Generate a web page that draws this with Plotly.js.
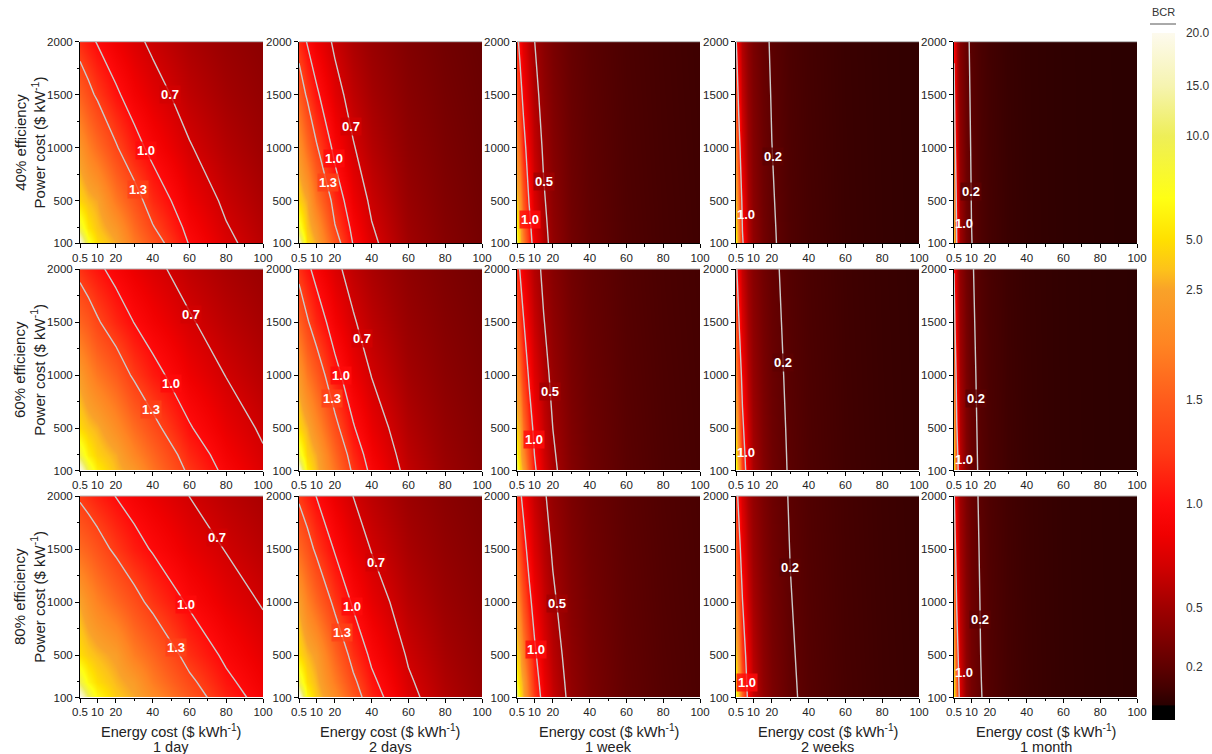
<!DOCTYPE html>
<html>
<head>
<meta charset="utf-8">
<script src="https://cdn.plot.ly/plotly-3.0.1.min.js"></script>
<style>html,body{margin:0;padding:0;background:#fff;}#chart{width:1212px;height:754px;}</style>
</head>
<body>
<div id="chart"></div>
<script>
// ---------------- data ----------------
const energyCostShort = [0.5, 5, 10, 20, 30, 40, 60, 80, 100];          // $ kWh-1 (1 day, 2 days)
const energyCostLong  = [0.5, 1, 2, 4, 7, 10, 15, 20, 30, 40, 60, 80, 100]; // $ kWh-1 (1 week .. 1 month)
const powerCost = [100, 250, 500, 1000, 1500, 2000];                    // $ kW-1
const durations = ['1 day', '2 days', '1 week', '2 weeks', '1 month'];
const efficiencies = ['40% efficiency', '60% efficiency', '80% efficiency'];

// BCR grids: rows follow powerCost, columns follow the energy-cost array
const bcr40_1day = [
  [19.67, 8.08, 4.88, 2.72, 1.89, 1.45, 0.984, 0.746, 0.601],
  [8.70, 5.32, 3.72, 2.32, 1.69, 1.32, 0.926, 0.712, 0.578],
  [4.51, 3.39, 2.66, 1.86, 1.43, 1.16, 0.843, 0.662, 0.545],
  [2.30, 1.97, 1.70, 1.33, 1.09, 0.929, 0.714, 0.580, 0.488],
  [1.54, 1.39, 1.25, 1.04, 0.887, 0.775, 0.620, 0.516, 0.442],
  [1.16, 1.07, 0.983, 0.848, 0.746, 0.665, 0.547, 0.465, 0.404]];
const bcr40_2days = [
  [16.96, 4.88, 2.72, 1.45, 0.984, 0.746, 0.503, 0.379, 0.304],
  [8.13, 3.72, 2.32, 1.32, 0.926, 0.712, 0.487, 0.370, 0.298],
  [4.35, 2.66, 1.86, 1.16, 0.843, 0.662, 0.463, 0.356, 0.289],
  [2.25, 1.70, 1.33, 0.929, 0.714, 0.580, 0.421, 0.331, 0.272],
  [1.52, 1.25, 1.04, 0.775, 0.620, 0.516, 0.387, 0.309, 0.257],
  [1.15, 0.983, 0.848, 0.665, 0.547, 0.465, 0.357, 0.290, 0.244]];
const bcr40_1week = [
  [10.05, 6.40, 3.71, 2.01, 1.19, 0.849, 0.573, 0.432, 0.290, 0.218, 0.146, 0.110, 0.0878],
  [6.11, 4.54, 3.00, 1.78, 1.11, 0.805, 0.553, 0.421, 0.285, 0.215, 0.145, 0.109, 0.0873],
  [3.70, 3.06, 2.27, 1.50, 0.992, 0.741, 0.522, 0.403, 0.276, 0.210, 0.142, 0.108, 0.0865],
  [2.07, 1.85, 1.53, 1.13, 0.818, 0.640, 0.470, 0.371, 0.261, 0.201, 0.138, 0.105, 0.0849],
  [1.43, 1.33, 1.15, 0.913, 0.697, 0.563, 0.427, 0.344, 0.247, 0.193, 0.134, 0.103, 0.0834],
  [1.10, 1.03, 0.924, 0.764, 0.606, 0.503, 0.391, 0.320, 0.235, 0.185, 0.130, 0.101, 0.0819]];
const bcr40_2weeks = [
  [6.40, 3.71, 2.01, 1.05, 0.613, 0.432, 0.290, 0.218, 0.146, 0.110, 0.0732, 0.0549, 0.0440],
  [4.54, 3.00, 1.78, 0.985, 0.590, 0.421, 0.285, 0.215, 0.145, 0.109, 0.0728, 0.0547, 0.0438],
  [3.06, 2.27, 1.50, 0.891, 0.555, 0.403, 0.276, 0.210, 0.142, 0.108, 0.0723, 0.0544, 0.0436],
  [1.85, 1.53, 1.13, 0.749, 0.496, 0.371, 0.261, 0.201, 0.138, 0.105, 0.0712, 0.0538, 0.0432],
  [1.33, 1.15, 0.913, 0.646, 0.448, 0.344, 0.247, 0.193, 0.134, 0.103, 0.0701, 0.0532, 0.0428],
  [1.03, 0.924, 0.764, 0.567, 0.409, 0.320, 0.235, 0.185, 0.130, 0.101, 0.0691, 0.0526, 0.0425]];
const bcr40_1month = [
  [3.50, 1.89, 0.985, 0.503, 0.290, 0.204, 0.136, 0.102, 0.0683, 0.0513, 0.0342, 0.0257, 0.0205],
  [2.86, 1.69, 0.926, 0.487, 0.285, 0.201, 0.135, 0.102, 0.0680, 0.0511, 0.0341, 0.0256, 0.0205],
  [2.19, 1.43, 0.843, 0.463, 0.276, 0.197, 0.133, 0.101, 0.0675, 0.0508, 0.0340, 0.0256, 0.0205],
  [1.49, 1.09, 0.714, 0.421, 0.261, 0.189, 0.129, 0.0985, 0.0666, 0.0503, 0.0338, 0.0254, 0.0204],
  [1.13, 0.887, 0.620, 0.387, 0.247, 0.182, 0.126, 0.0964, 0.0656, 0.0498, 0.0335, 0.0253, 0.0203],
  [0.911, 0.746, 0.547, 0.357, 0.235, 0.175, 0.123, 0.0945, 0.0647, 0.0492, 0.0333, 0.0251, 0.0202]];

const bcr60_1day = [
  [20.91, 9.47, 5.89, 3.36, 2.35, 1.80, 1.23, 0.937, 0.755],
  [9.10, 5.96, 4.31, 2.78, 2.05, 1.62, 1.15, 0.885, 0.721],
  [4.69, 3.69, 2.98, 2.16, 1.69, 1.39, 1.02, 0.811, 0.671],
  [2.38, 2.09, 1.84, 1.49, 1.25, 1.08, 0.845, 0.694, 0.589],
  [1.59, 1.46, 1.33, 1.14, 0.994, 0.882, 0.719, 0.607, 0.525],
  [1.20, 1.12, 1.05, 0.922, 0.824, 0.746, 0.626, 0.539, 0.474]];
const bcr60_2days = [
  [18.44, 5.89, 3.36, 1.80, 1.23, 0.937, 0.633, 0.478, 0.384],
  [8.59, 4.31, 2.78, 1.62, 1.15, 0.885, 0.609, 0.464, 0.375],
  [4.55, 2.98, 2.16, 1.39, 1.02, 0.811, 0.573, 0.443, 0.361],
  [2.34, 1.84, 1.49, 1.08, 0.845, 0.694, 0.512, 0.405, 0.336],
  [1.58, 1.33, 1.14, 0.882, 0.719, 0.607, 0.463, 0.374, 0.314],
  [1.19, 1.05, 0.922, 0.746, 0.626, 0.539, 0.422, 0.347, 0.295]];
const bcr60_1week = [
  [11.59, 7.62, 4.52, 2.50, 1.49, 1.06, 0.720, 0.544, 0.366, 0.275, 0.184, 0.138, 0.111],
  [6.74, 5.17, 3.53, 2.16, 1.37, 0.998, 0.689, 0.526, 0.357, 0.271, 0.182, 0.137, 0.110],
  [3.97, 3.37, 2.59, 1.77, 1.20, 0.905, 0.643, 0.499, 0.345, 0.263, 0.179, 0.135, 0.109],
  [2.18, 1.98, 1.68, 1.29, 0.959, 0.762, 0.568, 0.452, 0.322, 0.250, 0.172, 0.132, 0.106],
  [1.50, 1.41, 1.25, 1.02, 0.800, 0.658, 0.508, 0.414, 0.302, 0.237, 0.166, 0.128, 0.104],
  [1.15, 1.09, 0.992, 0.842, 0.686, 0.579, 0.460, 0.381, 0.284, 0.226, 0.161, 0.125, 0.102]];
const bcr60_2weeks = [
  [7.62, 4.52, 2.50, 1.32, 0.770, 0.544, 0.366, 0.275, 0.184, 0.138, 0.0924, 0.0694, 0.0555],
  [5.17, 3.53, 2.16, 1.22, 0.735, 0.526, 0.357, 0.271, 0.182, 0.137, 0.0919, 0.0691, 0.0554],
  [3.37, 2.59, 1.77, 1.08, 0.683, 0.499, 0.345, 0.263, 0.179, 0.135, 0.0910, 0.0686, 0.0550],
  [1.98, 1.68, 1.29, 0.883, 0.598, 0.452, 0.322, 0.250, 0.172, 0.132, 0.0894, 0.0676, 0.0544],
  [1.41, 1.25, 1.02, 0.746, 0.532, 0.414, 0.302, 0.237, 0.166, 0.128, 0.0877, 0.0667, 0.0538],
  [1.09, 0.992, 0.842, 0.647, 0.479, 0.381, 0.284, 0.226, 0.161, 0.125, 0.0862, 0.0658, 0.0532]];
const bcr60_1month = [
  [4.28, 2.35, 1.23, 0.633, 0.366, 0.257, 0.172, 0.129, 0.0863, 0.0648, 0.0432, 0.0324, 0.0260],
  [3.38, 2.05, 1.15, 0.609, 0.357, 0.253, 0.170, 0.128, 0.0858, 0.0645, 0.0431, 0.0324, 0.0259],
  [2.50, 1.69, 1.02, 0.573, 0.345, 0.247, 0.167, 0.127, 0.0851, 0.0641, 0.0429, 0.0323, 0.0258],
  [1.65, 1.25, 0.845, 0.512, 0.322, 0.235, 0.162, 0.123, 0.0836, 0.0633, 0.0425, 0.0320, 0.0257],
  [1.23, 0.994, 0.719, 0.463, 0.302, 0.224, 0.156, 0.120, 0.0822, 0.0624, 0.0422, 0.0318, 0.0256],
  [0.980, 0.824, 0.626, 0.422, 0.284, 0.214, 0.151, 0.117, 0.0808, 0.0616, 0.0418, 0.0316, 0.0254]];

const bcr80_1day = [
  [22.22, 10.76, 6.84, 3.96, 2.78, 2.15, 1.47, 1.12, 0.906],
  [9.57, 6.56, 4.86, 3.20, 2.39, 1.90, 1.36, 1.05, 0.859],
  [4.91, 3.97, 3.28, 2.43, 1.93, 1.60, 1.19, 0.952, 0.792],
  [2.49, 2.22, 1.99, 1.64, 1.40, 1.22, 0.966, 0.801, 0.684],
  [1.67, 1.54, 1.43, 1.24, 1.09, 0.979, 0.810, 0.691, 0.602],
  [1.25, 1.18, 1.11, 0.994, 0.898, 0.820, 0.698, 0.608, 0.538]];
const bcr80_2days = [
  [19.87, 6.84, 3.96, 2.15, 1.47, 1.12, 0.759, 0.574, 0.461],
  [9.10, 4.86, 3.20, 1.90, 1.36, 1.05, 0.726, 0.555, 0.449],
  [4.78, 3.28, 2.43, 1.60, 1.19, 0.952, 0.677, 0.526, 0.430],
  [2.45, 1.99, 1.64, 1.22, 0.965, 0.801, 0.597, 0.476, 0.396],
  [1.65, 1.43, 1.24, 0.979, 0.810, 0.691, 0.534, 0.435, 0.367],
  [1.24, 1.11, 0.993, 0.820, 0.698, 0.608, 0.483, 0.400, 0.342]];
const bcr80_1week = [
  [13.00, 8.76, 5.30, 2.96, 1.78, 1.27, 0.864, 0.654, 0.439, 0.331, 0.222, 0.167, 0.133],
  [7.33, 5.76, 4.03, 2.52, 1.61, 1.18, 0.822, 0.629, 0.428, 0.325, 0.219, 0.165, 0.132],
  [4.24, 3.66, 2.88, 2.01, 1.39, 1.06, 0.760, 0.592, 0.411, 0.315, 0.214, 0.162, 0.131],
  [2.30, 2.12, 1.83, 1.44, 1.09, 0.876, 0.660, 0.530, 0.380, 0.296, 0.205, 0.157, 0.127],
  [1.58, 1.49, 1.34, 1.12, 0.895, 0.746, 0.584, 0.479, 0.353, 0.280, 0.197, 0.153, 0.124],
  [1.20, 1.15, 1.06, 0.916, 0.760, 0.650, 0.523, 0.438, 0.330, 0.265, 0.190, 0.148, 0.121]];
const bcr80_2weeks = [
  [8.75, 5.30, 2.96, 1.57, 0.923, 0.653, 0.439, 0.331, 0.222, 0.167, 0.111, 0.0836, 0.0669],
  [5.76, 4.03, 2.52, 1.44, 0.875, 0.629, 0.428, 0.325, 0.219, 0.165, 0.111, 0.0832, 0.0666],
  [3.66, 2.88, 2.01, 1.26, 0.805, 0.592, 0.411, 0.314, 0.214, 0.162, 0.109, 0.0825, 0.0662],
  [2.12, 1.83, 1.44, 1.01, 0.694, 0.530, 0.380, 0.296, 0.205, 0.157, 0.107, 0.0811, 0.0653],
  [1.49, 1.34, 1.12, 0.839, 0.610, 0.479, 0.353, 0.280, 0.197, 0.152, 0.105, 0.0799, 0.0645],
  [1.15, 1.06, 0.916, 0.719, 0.544, 0.438, 0.330, 0.265, 0.190, 0.148, 0.103, 0.0786, 0.0637]];
const bcr80_1month = [
  [5.01, 2.78, 1.47, 0.759, 0.439, 0.309, 0.207, 0.156, 0.104, 0.0780, 0.0521, 0.0391, 0.0313],
  [3.86, 2.39, 1.35, 0.726, 0.428, 0.304, 0.204, 0.154, 0.103, 0.0777, 0.0519, 0.0390, 0.0312],
  [2.79, 1.93, 1.19, 0.677, 0.411, 0.295, 0.200, 0.152, 0.102, 0.0771, 0.0516, 0.0388, 0.0311],
  [1.80, 1.40, 0.966, 0.597, 0.380, 0.278, 0.193, 0.147, 0.100, 0.0759, 0.0511, 0.0385, 0.0309],
  [1.32, 1.09, 0.810, 0.534, 0.353, 0.264, 0.186, 0.143, 0.0982, 0.0748, 0.0506, 0.0382, 0.0307],
  [1.05, 0.898, 0.698, 0.483, 0.330, 0.251, 0.179, 0.139, 0.0964, 0.0737, 0.0501, 0.0380, 0.0305]];

const bcrGrid = [
  [bcr40_1day, bcr40_2days, bcr40_1week, bcr40_2weeks, bcr40_1month],
  [bcr60_1day, bcr60_2days, bcr60_1week, bcr60_2weeks, bcr60_1month],
  [bcr80_1day, bcr80_2days, bcr80_1week, bcr80_2weeks, bcr80_1month]];

// contour levels drawn in each duration column
const contourLevelSets = [[0.7, 1.0, 1.3], [0.7, 1.0, 1.3], [0.5, 1.0], [0.2, 1.0], [0.2, 1.0]];

const bcrTicks = [0.2, 0.5, 1.0, 1.5, 2.5, 5.0, 10.0, 15.0, 20.0];
const bcrTickText = ['0.2', '0.5', '1.0', '1.5', '2.5', '5.0', '10.0', '15.0', '20.0'];
const xTickVals = [0.5, 10, 20, 40, 60, 80, 100];
const xTickText = ['0.5', '10', '20', '40', '60', '80', '100'];
const yTickVals = [100, 500, 1000, 1500, 2000];

// label heights (power cost) at which the contour labels sit, per panel, same order as the levels
const labelHeights = [
  [[1500, 977, 610], [1205, 903, 668], [678, 320], [913, 375], [583, 290]],
  [[1575, 923, 677], [1348, 998, 780], [847, 393], [1121, 270], [781, 204]],
  [[1612, 979, 573], [1376, 960, 714], [989, 554], [1329, 242], [837, 337]]];

// ---------------- colour bar scale (non-linear, as in the reference bar) ----------------
const KV = [0, 0.015, 0.2, 0.5, 1.0, 1.5, 2.5, 5.0, 10, 15, 20];
const KT = [0, 0.022, 0.077, 0.164, 0.314, 0.466, 0.626, 0.699, 0.850, 0.923, 1.0];
function toT(v) {
  v = Math.max(0, Math.min(20, v));
  for (let i = 1; i < KV.length; i++) {
    if (v <= KV[i]) { const f = (v - KV[i - 1]) / (KV[i] - KV[i - 1]); return KT[i - 1] + f * (KT[i] - KT[i - 1]); }
  }
  return 1;
}
const colourStops = [[0, '#000000'], [0.014, '#000000'], [0.015, '#2a0000'], [0.05, '#340000'], [0.1, '#440000'],
  [0.2, '#5e0000'], [0.35, '#800000'], [0.5, '#a00000'], [0.7, '#d20000'], [0.85, '#f00000'], [1.0, '#ff0a0a'],
  [1.25, '#ff3a14'], [1.5, '#ff5c1c'], [2.0, '#ff8422'], [2.5, '#f9a229'], [3.5, '#fdc21a'], [5.0, '#ffe000'],
  [7.0, '#ffff14'], [10, '#eeee58'], [15, '#f6f4b0'], [20, '#fdfaee']];
const colorscale = colourStops.map(s => [toT(s[0]), s[1]]);

function hexToRgb(h) { return [parseInt(h.slice(1, 3), 16), parseInt(h.slice(3, 5), 16), parseInt(h.slice(5, 7), 16)]; }
function colourAt(v, alpha) {
  const t = toT(v);
  for (let i = 1; i < colorscale.length; i++) {
    if (t <= colorscale[i][0]) {
      const a = hexToRgb(colorscale[i - 1][1]), b = hexToRgb(colorscale[i][1]);
      const f = (t - colorscale[i - 1][0]) / (colorscale[i][0] - colorscale[i - 1][0] || 1);
      return 'rgba(' + a.map((q, k) => Math.round(q + f * (b[k] - q))).join(',') + ',' + alpha + ')';
    }
  }
  return 'rgba(253,250,238,' + alpha + ')';
}
// where a contour level crosses a given power-cost height (linear interpolation in the grid)
function crossingX(z, xs, ys, level, yl) {
  let j = 0;
  while (j < ys.length - 2 && yl > ys[j + 1]) j++;
  const f = (yl - ys[j]) / (ys[j + 1] - ys[j]);
  const row = xs.map((_, i) => z[j][i] + f * (z[j + 1][i] - z[j][i]));
  for (let i = 0; i < xs.length - 1; i++) {
    if ((row[i] - level) * (row[i + 1] - level) <= 0) {
      return xs[i] + (level - row[i]) / (row[i + 1] - row[i]) * (xs[i + 1] - xs[i]);
    }
  }
  return row[0] < level ? xs[0] : xs[xs.length - 1];
}

// ---------------- layout geometry ----------------
const W = 1212, H = 754;
const FONT = 'Arial, "Liberation Sans", sans-serif';
const colLeft = [80, 299, 517, 736, 954], panelW = 183;
const rowTop = [41.7, 269, 496], panelH = 201.5;
const LABEL_MIN_X = 6.2;
const TICK_FONT = {family: FONT, size: 11.5, color: '#222'};

const traces = [];
const layout = {
  width: W, height: H, margin: {l: 0, r: 0, t: 0, b: 0},
  paper_bgcolor: '#ffffff', plot_bgcolor: '#ffffff', showlegend: false,
  font: {family: FONT, size: 12, color: '#222'},
  shapes: [], annotations: []
};

for (let r = 0; r < 3; r++) {
  for (let c = 0; c < 5; c++) {
    const idx = r * 5 + c + 1;
    const s = idx === 1 ? '' : String(idx);
    const xs = c < 2 ? energyCostShort : energyCostLong;
    const z = bcrGrid[r][c];
    const heat = {
      type: 'heatmap', x: xs, y: powerCost, z: z.map(row => row.map(toT)),
      zmin: 0, zmax: 1, zsmooth: 'best', colorscale: colorscale,
      showscale: idx === 1, xaxis: 'x' + s, yaxis: 'y' + s, hoverinfo: 'skip'
    };
    if (idx === 1) {
      heat.colorbar = {
        x: 1152 / W, xanchor: 'left', y: 1 - 720 / H, yanchor: 'bottom',
        len: 687 / H, lenmode: 'fraction', thickness: 23, thicknessmode: 'pixels',
        outlinewidth: 0, xpad: 0, ypad: 0,
        tickmode: 'array', tickvals: bcrTicks.map(toT), ticktext: bcrTickText,
        ticks: 'outside', ticklen: 9, tickcolor: 'rgba(0,0,0,0)',
        tickfont: {family: FONT, size: 12, color: '#333'}
      };
    }
    traces.push(heat);
    const levels = contourLevelSets[c];
    const step = levels[1] - levels[0];
    traces.push({
      type: 'contour', x: xs, y: powerCost, z: z, autocontour: false,
      contours: {coloring: 'none', start: levels[0], end: levels[levels.length - 1] + step * 0.001, size: step, showlabels: false},
      line: {color: '#cacaca', width: 1.4, smoothing: 0},
      showscale: false, xaxis: 'x' + s, yaxis: 'y' + s, hoverinfo: 'skip'
    });
    // horizontal contour labels, placed on the lines
    levels.forEach((lv, k) => {
      const yl = labelHeights[r][c][k];
      const xOnLine = crossingX(z, xs, powerCost, lv, yl);
      const xl = Math.max(xOnLine, LABEL_MIN_X);
      layout.annotations.push({
        xref: 'x' + s, yref: 'y' + s, x: xl, y: yl, text: lv.toFixed(1), showarrow: false,
        font: {family: FONT, size: 13, color: '#ffffff', weight: 'bold'},
        bgcolor: xOnLine >= LABEL_MIN_X ? colourAt(lv, 0.8) : 'rgba(0,0,0,0)', borderpad: 1
      });
    });

    const x0 = colLeft[c] / W, x1 = (colLeft[c] + panelW) / W;
    const y1 = 1 - rowTop[r] / H, y0 = 1 - (rowTop[r] + panelH) / H;
    const xa = {
      domain: [x0, x1], anchor: 'y' + s, range: [0.5, 100], fixedrange: true,
      tickmode: 'array', tickvals: xTickVals, ticktext: xTickText, tickangle: 0,
      ticks: 'outside', ticklen: 4, tickwidth: 1, tickcolor: '#000',
      showline: true, linecolor: '#000', linewidth: 1, showgrid: false, zeroline: false,
      tickfont: TICK_FONT,
      minor: {tickmode: 'array', tickvals: [30, 50, 70, 90], ticks: 'outside', ticklen: 2.5, tickcolor: '#000', showgrid: false}
    };
    const ya = {
      domain: [y0, y1], anchor: 'x' + s, range: [100, 2000], fixedrange: true,
      tickmode: 'array', tickvals: yTickVals, tickangle: 0,
      ticks: 'outside', ticklen: 4, tickwidth: 1, tickcolor: '#000',
      showline: true, linecolor: '#000', linewidth: 1, showgrid: false, zeroline: false,
      tickfont: TICK_FONT,
      minor: {tickmode: 'array', tickvals: [250, 750, 1250, 1750], ticks: 'outside', ticklen: 2.5, tickcolor: '#000', showgrid: false}
    };
    layout['xaxis' + s] = xa;
    layout['yaxis' + s] = ya;
    layout.shapes.push({type: 'line', xref: 'paper', yref: 'paper', x0: x0, x1: x1, y0: y1, y1: y1,
      line: {color: '#b4b4b4', width: 1}});
    if (c === 0) {
      layout.annotations.push({
        xref: 'paper', yref: 'paper', x: 30 / W, y: (y0 + y1) / 2, xanchor: 'center', yanchor: 'middle',
        text: efficiencies[r] + '<br>Power cost ($ kW<sup>-1</sup>)', textangle: -90, showarrow: false,
        font: {family: FONT, size: 15, color: '#222'}
      });
    }
    if (r === 2) {
      const xc = (x0 + x1) / 2;
      layout.annotations.push({
        xref: 'paper', yref: 'paper', x: xc, y: 1 - 731 / H, xanchor: 'center', yanchor: 'middle',
        text: 'Energy cost ($ kWh<sup>-1</sup>)', showarrow: false, font: {family: FONT, size: 14.5, color: '#222'}
      });
      layout.annotations.push({
        xref: 'paper', yref: 'paper', x: xc, y: 1 - 747 / H, xanchor: 'center', yanchor: 'middle',
        text: durations[c], showarrow: false, font: {family: FONT, size: 14.5, color: '#222'}
      });
    }
  }
}
// colour bar title
layout.annotations.push({xref: 'paper', yref: 'paper', x: 1163 / W, y: 1 - 12 / H, text: 'BCR', showarrow: false,
  xanchor: 'center', yanchor: 'middle', font: {family: FONT, size: 11, color: '#333'}});
layout.shapes.push({type: 'line', xref: 'paper', yref: 'paper', x0: 1150 / W, x1: 1176 / W,
  y0: 1 - 24 / H, y1: 1 - 24 / H, line: {color: '#555', width: 1}});

Plotly.newPlot('chart', traces, layout, {displayModeBar: false, staticPlot: true});
</script>
</body>
</html>
